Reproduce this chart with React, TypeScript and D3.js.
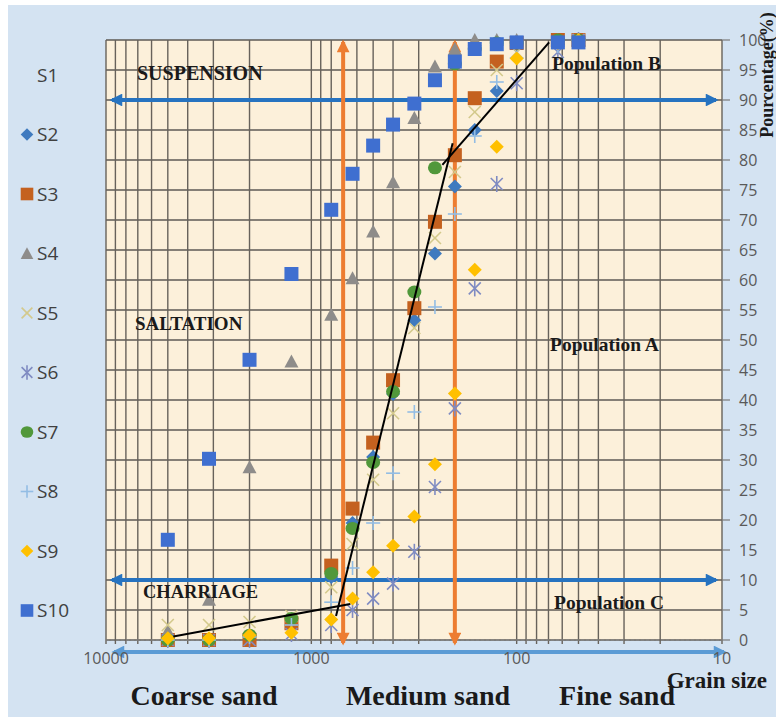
import React from "react";
import * as d3 from "d3";

// ---------- DATA ----------
const SIZES = [5000, 3150, 2000, 1250, 800, 630, 500, 400, 315, 250, 200, 160, 125, 100, 63, 50];
const LEGEND = ["S1", "S2", "S3", "S4", "S5", "S6", "S7", "S8", "S9", "S10"];
const S2 = [0, 0, 0, 2.5, 10.5, 19.5, 30.5, 41, 53.3, 64.4, 75.6, 85, 91.5, 99, 100, 100];
const S3 = [0, 0, 0, 2.8, 12.4, 21.9, 32.9, 43.3, 55.3, 69.7, 80.8, 90.3, 96.4, 99.5, 100, 100];
const S4 = [1.5, 6.7, 28.8, 46.4, 54.2, 60.3, 68.1, 76.3, 87, 95.6, 98.5, 100, 100, 100, 100, 100];
const S5 = [2.5, 2.5, 3, 4, 8.8, 16, 26.7, 37.8, 52, 67, 78, 88, 95, 98, 99.5, 100];
const S6 = [0, 0, 0, 1, 2.5, 5, 6.9, 9.4, 14.7, 25.5, 38.6, 58.6, 76, 92.8, 98, 100];
const S7 = [0, 0, 0.8, 3.6, 11.1, 18.6, 29.6, 41.4, 58, 78.7, 96, 98.5, 99.5, 99.5, 100, 100];
const S8 = [0, 0, 0.5, 2.5, 6.3, 12, 19.5, 27.8, 38, 55.5, 71, 84, 93, 97, 99, 100];
const S9 = [0.3, 0.3, 0.8, 1.2, 3.4, 6.9, 11.3, 15.7, 20.6, 29.3, 41.1, 61.7, 82.2, 96.9, 99.5, 100];
const S10 = [16.7, 30.2, 46.7, 61, 71.7, 77.7, 82.4, 85.9, 89.4, 93.3, 96.4, 98.5, 99.3, 99.6, 99.6, 99.6];

// black interpretation segments (grain size, %)
const LINE_C: [number, number][] = [[4700, 0.6], [646, 6]];
const LINE_A: [number, number][] = [[758, 4], [205, 82.8]];
const LINE_B: [number, number][] = [[230, 79.2], [69.5, 99.6]];

const X_TICKS = [10000, 1000, 100, 10];
const Y_TICKS = d3.range(0, 101, 5);
const LIMITS = [700, 200]; // orange sand limits
const FLOWS = [90, 10]; // blue horizontal limits

const SERIES = [
  { name: "S1", shape: "none", color: "none", values: [] as number[] },
  { name: "S2", shape: "diamond", color: "#3f7abf", values: S2 },
  { name: "S3", shape: "square", color: "#c4611f", values: S3 },
  { name: "S4", shape: "triangle", color: "#8e8c8a", values: S4 },
  { name: "S5", shape: "x", color: "#d3c98c", values: S5 },
  { name: "S6", shape: "asterisk", color: "#7f8bc2", values: S6 },
  { name: "S7", shape: "circle", color: "#51983b", values: S7 },
  { name: "S8", shape: "plus", color: "#93bde4", values: S8 },
  { name: "S9", shape: "diamond", color: "#ffc000", values: S9 },
  { name: "S10", shape: "square", color: "#3f6fd0", values: S10 },
];

const W = 776;
const H = 717;
const x = d3.scaleLog().domain([10000, 10]).range([106, 722]);
const y = d3.scaleLinear().domain([0, 100]).range([640, 40]);

function Marker({ shape, color, cx, cy, s = 1 }: { shape: string; color: string; cx: number; cy: number; s?: number }) {
  switch (shape) {
    case "square":
      return <rect x={cx - 7 * s} y={cy - 7 * s} width={14 * s} height={14 * s} fill={color} />;
    case "diamond":
      return (
        <path
          d={`M${cx},${cy - 7 * s} L${cx + 7 * s},${cy} L${cx},${cy + 7 * s} L${cx - 7 * s},${cy} Z`}
          fill={color}
        />
      );
    case "triangle":
      return (
        <path
          d={`M${cx},${cy - 7 * s} L${cx + 7 * s},${cy + 6 * s} L${cx - 7 * s},${cy + 6 * s} Z`}
          fill={color}
        />
      );
    case "circle":
      return <ellipse cx={cx} cy={cy} rx={7 * s} ry={6.5 * s} fill={color} />;
    case "x":
      return (
        <g stroke={color} strokeWidth={1.6}>
          <line x1={cx - 6 * s} y1={cy - 6 * s} x2={cx + 6 * s} y2={cy + 6 * s} />
          <line x1={cx - 6 * s} y1={cy + 6 * s} x2={cx + 6 * s} y2={cy - 6 * s} />
        </g>
      );
    case "plus":
      return (
        <g stroke={color} strokeWidth={1.6}>
          <line x1={cx - 7 * s} y1={cy} x2={cx + 7 * s} y2={cy} />
          <line x1={cx} y1={cy - 7 * s} x2={cx} y2={cy + 7 * s} />
        </g>
      );
    case "asterisk":
      return (
        <g stroke={color} strokeWidth={1.6}>
          <line x1={cx - 6 * s} y1={cy - 6 * s} x2={cx + 6 * s} y2={cy + 6 * s} />
          <line x1={cx - 6 * s} y1={cy + 6 * s} x2={cx + 6 * s} y2={cy - 6 * s} />
          <line x1={cx} y1={cy - 8 * s} x2={cx} y2={cy + 8 * s} />
        </g>
      );
    default:
      return null;
  }
}

const serif = "'Liberation Serif', 'Times New Roman', serif";
const sans = "'Open Sans', 'Noto Sans', sans-serif";

export default function App() {
  const line = d3
    .line<[number, number]>()
    .x((d) => x(d[0]))
    .y((d) => y(d[1]));
  const vTicks = x.ticks();

  return (
    <svg width={W} height={H} style={{ position: "absolute", left: 0, top: 0 }}>
      <defs>
        <marker id="arBlue" viewBox="0 0 10 10" refX="8" refY="5" markerWidth="3.6" markerHeight="3.2" orient="auto-start-reverse">
          <path d="M0,0 L10,5 L0,10 z" fill="#2673c0" />
        </marker>
        <marker id="arLight" viewBox="0 0 10 10" refX="8" refY="5" markerWidth="3.6" markerHeight="3.2" orient="auto-start-reverse">
          <path d="M0,0 L10,5 L0,10 z" fill="#5b9bd5" />
        </marker>
        <marker id="arOrange" viewBox="0 0 10 10" refX="8" refY="5" markerWidth="3.4" markerHeight="3.2" orient="auto-start-reverse">
          <path d="M0,0 L10,5 L0,10 z" fill="#ed7d31" />
        </marker>
      </defs>

      {/* background */}
      <rect x={0} y={0} width={W} height={H} fill="#ffffff" />
      <rect x={8} y={5} width={W - 8} height={H - 5} fill="#d4e3f2" />

      {/* plot area */}
      <rect x={x(10000)} y={y(100)} width={x(10) - x(10000)} height={y(0) - y(100)} fill="#fcf0da" />

      {/* horizontal grid */}
      {Y_TICKS.map((t) => (
        <line key={"h" + t} x1={x(10000)} x2={x(10)} y1={y(t)} y2={y(t)} stroke="#5e5a54" strokeWidth={1.4} />
      ))}
      {/* vertical grid */}
      {vTicks.map((t) => (
        <line key={"v" + t} x1={x(t)} x2={x(t)} y1={y(100)} y2={y(0) + 4} stroke="#67625b" strokeWidth={1.4} />
      ))}
      {/* right axis ticks */}
      {Y_TICKS.map((t) => (
        <line key={"rt" + t} x1={x(10)} x2={x(10) + 8} y1={y(t)} y2={y(t)} stroke="#7a7a7a" strokeWidth={1.2} />
      ))}
      <line x1={x(10000)} x2={x(10)} y1={y(0)} y2={y(0)} stroke="#8a8a8a" strokeWidth={1.2} strokeDasharray="3 2" />

      {/* blue flow limits */}
      {FLOWS.map((f) => (
        <line
          key={"f" + f}
          x1={x(10000) + 6}
          x2={x(10) - 6}
          y1={y(f)}
          y2={y(f)}
          stroke="#2673c0"
          strokeWidth={4}
          markerStart="url(#arBlue)"
          markerEnd="url(#arBlue)"
        />
      ))}

      {/* orange limits */}
      {LIMITS.map((l) => (
        <line
          key={"l" + l}
          x1={x(l)}
          x2={x(l)}
          y1={y(100) + 2}
          y2={y(0) + 3}
          stroke="#ed7d31"
          strokeWidth={4}
          markerStart="url(#arOrange)"
          markerEnd="url(#arOrange)"
        />
      ))}

      {/* bottom light-blue arrow */}
      <line
        x1={x(10000) + 8}
        x2={x(10) + 2}
        y1={652}
        y2={652}
        stroke="#5b9bd5"
        strokeWidth={4}
        markerStart="url(#arLight)"
        markerEnd="url(#arLight)"
      />

      {/* data markers */}
      {SERIES.map((s) =>
        s.values.map((v, i) => (
          <Marker key={s.name + i} shape={s.shape} color={s.color} cx={x(SIZES[i])} cy={y(v)} />
        ))
      )}

      {/* interpretation lines */}
      {[LINE_C, LINE_A, LINE_B].map((seg, i) => (
        <path key={"seg" + i} d={line(seg) || ""} stroke="#000" strokeWidth={2} fill="none" />
      ))}

      {/* texts inside plot */}
      <text x={137} y={80} fontFamily={serif} fontWeight="bold" fontSize={20} fill="#1a1a1a">SUSPENSION</text>
      <text x={135} y={330} fontFamily={serif} fontWeight="bold" fontSize={19} fill="#1a1a1a">SALTATION</text>
      <text x={143} y={598} fontFamily={serif} fontWeight="bold" fontSize={18.5} fill="#1a1a1a">CHARRIAGE</text>
      <text x={552} y={70} fontFamily={serif} fontWeight="bold" fontSize={19.5} fill="#1a1a1a">Population B</text>
      <text x={550} y={351} fontFamily={serif} fontWeight="bold" fontSize={19.5} fill="#1a1a1a">Population A</text>
      <text x={554} y={609} fontFamily={serif} fontWeight="bold" fontSize={19.5} fill="#1a1a1a">Population C</text>

      {/* y tick labels */}
      {Y_TICKS.map((t) => (
        <text key={"yl" + t} x={739} y={y(t)} dy="0.35em" fontFamily={sans} fontSize={16} fill="#595959">
          {t}
        </text>
      ))}
      {/* x tick labels */}
      {X_TICKS.map((t) => (
        <text key={"xl" + t} x={x(t)} y={664} textAnchor="middle" fontFamily={sans} fontSize={16} fill="#595959">
          {t}
        </text>
      ))}

      {/* axis titles */}
      <text
        transform={`translate(773,75) rotate(-90)`}
        textAnchor="middle"
        fontFamily={serif}
        fontWeight="bold"
        fontSize={18}
        fill="#1a1a1a"
      >
        Pourcentage(%)
      </text>
      <text x={767} y={688} textAnchor="end" fontFamily={serif} fontWeight="bold" fontSize={23} fill="#1a1a1a">
        Grain size
      </text>
      <text x={204} y={705} textAnchor="middle" fontFamily={serif} fontWeight="bold" fontSize={28} fill="#1a1a1a">
        Coarse sand
      </text>
      <text x={428} y={705} textAnchor="middle" fontFamily={serif} fontWeight="bold" fontSize={28} fill="#1a1a1a">
        Medium sand
      </text>
      <text x={617} y={705} textAnchor="middle" fontFamily={serif} fontWeight="bold" fontSize={28} fill="#1a1a1a">
        Fine sand
      </text>

      {/* legend */}
      {LEGEND.map((name, i) => {
        const s = SERIES[i];
        const cy = 75 + i * 59.5;
        return (
          <g key={"lg" + name}>
            <Marker shape={s.shape} color={s.color} cx={27} cy={cy} s={0.9} />
            <text x={37} y={cy} dy="0.35em" fontFamily={sans} fontSize={19} fill="#404040">
              {name}
            </text>
          </g>
        );
      })}
    </svg>
  );
}
